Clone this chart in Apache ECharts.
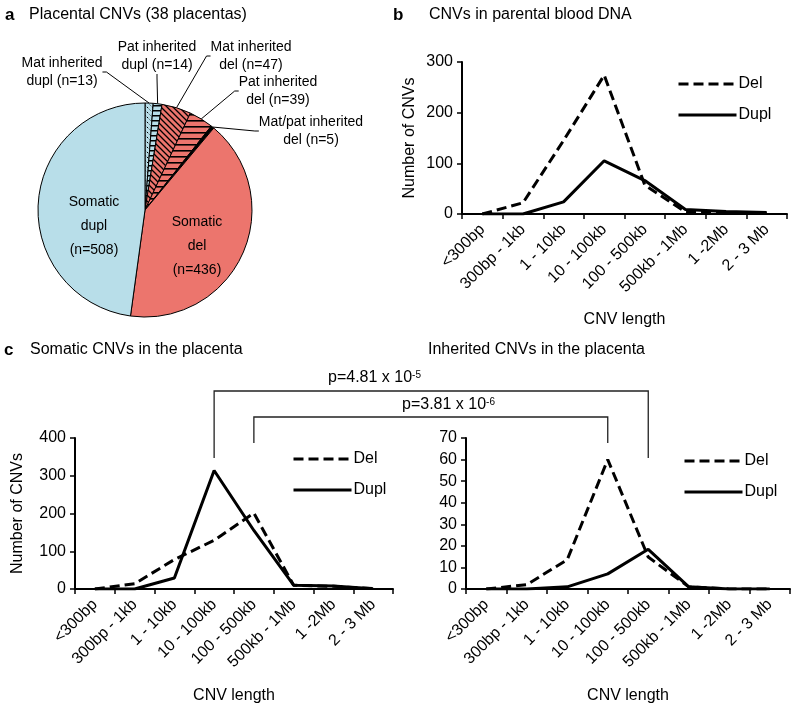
<!DOCTYPE html>
<html><head><meta charset="utf-8">
<script src="https://cdn.jsdelivr.net/npm/echarts@6/dist/echarts.min.js"></script>
<style>html,body{margin:0;padding:0;background:#fff}#c{width:797px;height:709px}</style>
</head><body><div id="c"></div>
<script>
// ---------- data ----------
const lengthCats = ['<300bp','300bp - 1kb','1 - 10kb','10 - 100kb','100 - 500kb','500kb - 1Mb','1 -2Mb','2 - 3 Mb'];
const pieNames = ['Mat inherited dupl','Pat inherited dupl','Mat inherited del','Pat inherited del','Mat/pat inherited del','Somatic del','Somatic dupl'];
const pieCounts = [13,14,47,39,5,436,508];
const parentalDel  = [0,22,145,274,57,4,2,1];
const parentalDupl = [0,0,24,105,66,9,5,3];
const somaticDel   = [0,14,78,129,201,10,7,1];
const somaticDupl  = [0,0,29,314,155,10,8,1];
const inheritedDel  = [0,2,13.6,60,14.8,1,0,0];
const inheritedDupl = [0,0,1,7,18.4,1,0,0];
const seriesNames = ['Del','Dupl'];
const pLabels = [['p=4.81 x 10','-5'],['p=3.81 x 10','-6']];

// ---------- styles ----------
const FONT = '"Liberation Sans", Arial, sans-serif';
const BLUE = '#b8dee9', SALMON = '#ec756d';
function pattern(bg, draw, w, h){
  const c = document.createElement('canvas'); c.width = w; c.height = h;
  const g = c.getContext('2d'); g.fillStyle = bg; g.fillRect(0,0,w,h);
  g.strokeStyle = '#000'; draw(g,w,h); return {image:c, repeat:'repeat'};
}
function diag(g,s){ g.beginPath(); g.moveTo(-1,-1); g.lineTo(s+1,s+1); g.moveTo(-1,s-1); g.lineTo(1,s+1); g.moveTo(s-1,-1); g.lineTo(s+1,1); g.stroke(); }
const pieFills = [
  pattern(BLUE,(g,w,h)=>{g.lineWidth=1; g.setLineDash([2,2]); diag(g,w);},5,5),
  pattern(BLUE,(g,w,h)=>{g.lineWidth=1.5; g.beginPath(); g.moveTo(0,0.75); g.lineTo(w,0.75); g.stroke();},6,5),
  pattern(SALMON,(g,w,h)=>{g.lineWidth=1.3; diag(g,w);},6,6),
  pattern(SALMON,(g,w,h)=>{g.lineWidth=1.6; g.beginPath(); g.moveTo(0,0.8); g.lineTo(w,0.8); g.stroke();},6,6.5),
  '#000', SALMON, BLUE
];
const outsideLabelPos = [[62,72],[157,56],[251,56],[278,91],[311,131],[197,246],[94,226]];

const grids = [
  {left:462, top:62, width:325, height:152},
  {left:75, top:438, width:318, height:151},
  {left:466, top:438, width:324, height:151}
];
const yCfg = [{max:300, interval:100, name:'Number of CNVs', gap:44},{max:400, interval:100, name:'Number of CNVs', gap:49},{max:70, interval:10, name:'', gap:0}];
const xGap = [98,99,99];
const lineData = [[parentalDel,parentalDupl],[somaticDel,somaticDupl],[inheritedDel,inheritedDupl]];
const legendPos = [[677,76],[292,451],[683,453]];

const axisLine = {show:true, onZero:false, lineStyle:{color:'#000', width:2}};
const option = {
  backgroundColor:'#fff',
  animation:false,
  textStyle:{fontFamily:FONT},
  grid: grids,
  xAxis: grids.map((g,i)=>({
    type:'category', gridIndex:i, data:lengthCats, boundaryGap:true,
    axisLine, axisTick:{show:true, length:5, inside:false, lineStyle:{color:'#000', width:1.5}},
    axisLabel:{rotate:45, interval:0, fontSize:16, color:'#000', margin:13, fontFamily:FONT},
    name:'CNV length', nameLocation:'middle', nameGap:xGap[i],
    nameTextStyle:{fontSize:16, color:'#000', fontFamily:FONT, verticalAlign:'top'}
  })),
  yAxis: grids.map((g,i)=>({
    type:'value', gridIndex:i, min:0, max:yCfg[i].max, interval:yCfg[i].interval,
    axisLine, axisTick:{show:true, length:5, lineStyle:{color:'#000', width:1.5}},
    splitLine:{show:false},
    axisLabel:{fontSize:16, color:'#000', margin:9, fontFamily:FONT},
    name:yCfg[i].name, nameLocation:'middle', nameGap:yCfg[i].gap,
    nameTextStyle:{fontSize:16, color:'#000', fontFamily:FONT}
  })),
  legend: legendPos.map(p=>({
    data:seriesNames, orient:'vertical', left:p[0], top:p[1], padding:0,
    itemWidth:58, itemHeight:14, itemGap:15,
    itemStyle:{opacity:0}, lineStyle:{width:3},
    textStyle:{fontSize:16, color:'#000', fontFamily:FONT, padding:[0,0,0,-3]}, selectedMode:false
  })),
  series: [],
  graphic: []
};
lineData.forEach((pair,i)=>{
  pair.forEach((d,k)=>{
    option.series.push({
      type:'line', name:seriesNames[k], xAxisIndex:i, yAxisIndex:i, data:d,
      symbol:'none', showSymbol:false,
      lineStyle:{color:'#000', width:3, type: k===0 ? [10,5] : 'solid'},
      itemStyle:{color:'#000'}
    });
  });
});
option.series.push({
  type:'pie', center:[145,210], radius:107, startAngle:90, clockwise:true, avoidLabelOverlap:false,
  itemStyle:{borderColor:'#000', borderWidth:1},
  label:{show:true, position:'outside', fontSize:14, color:'#000', lineHeight:18, fontFamily:FONT,
    formatter:(p)=>{
      if (p.dataIndex >= 5) return p.name.replace(' ','\n') + '\n(n=' + p.value + ')';
      const n = p.name; const idx = n.lastIndexOf(' ');
      return n.slice(0,idx) + '\n' + n.slice(idx+1) + ' (n=' + p.value + ')';
    }},
  labelLine:{show:true, length:6, length2:4, smooth:false, lineStyle:{color:'#000', width:1}},
  labelLayout:(params)=>{
    const p = outsideLabelPos[params.dataIndex];
    return {x:p[0], y:p[1], align:'center', verticalAlign:'middle'};
  },
  emphasis:{disabled:true},
  data: pieNames.map((n,i)=>({
    name:n, value:pieCounts[i], itemStyle:{color:pieFills[i]},
    label: i>=5 ? {position:'inside', lineHeight:24} : undefined,
    labelLine: i>=5 ? {show:false} : undefined
  }))
});
// title texts
const titles = [
  ['a',5,15,true],['Placental CNVs (38 placentas)',29,15,false],
  ['b',393,15,true],['CNVs in parental blood DNA',429,15,false],
  ['c',4,350,true],['Somatic CNVs in the placenta',30,350,false],
  ['Inherited CNVs in the placenta',428,350,false]
];
titles.forEach((t,i)=>option.graphic.push({type:'text', id:'t'+i, x:t[1], y:t[2],
  style:{text:t[0], fill:'#000', font:(t[3]?'bold 17px ':'16px ')+FONT, verticalAlign:'middle'}}));

const chart = echarts.init(document.getElementById('c'), null, {renderer:'canvas'});
chart.setOption(option);

// significance brackets between categories of the two placenta panels
const px = (gi, cat) => chart.convertToPixel({xAxisIndex:gi}, cat);
const brackets = [
  {from:[1,'10 - 100kb'], to:[2,'100 - 500kb'], yTop:391, yBot:458, label:pLabels[0], lx:328, ly:378},
  {from:[1,'100 - 500kb'], to:[2,'10 - 100kb'], yTop:417, yBot:443, label:pLabels[1], lx:402, ly:405}
];
const extra = [];
brackets.forEach((b,i)=>{
  const x1 = px(b.from[0], b.from[1]), x2 = px(b.to[0], b.to[1]);
  extra.push({type:'polyline', id:'br'+i, shape:{points:[[x1,b.yBot],[x1,b.yTop],[x2,b.yTop],[x2,b.yBot]]},
    style:{stroke:'#222', lineWidth:1.3, fill:null}});
  extra.push({type:'text', id:'pl'+i, x:b.lx, y:b.ly, style:{text:'{a|'+b.label[0]+'}{b|'+b.label[1]+'}',
    verticalAlign:'middle', rich:{a:{fontSize:16, fontFamily:FONT, fill:'#000'}, b:{fontSize:10, fontFamily:FONT, fill:'#000', verticalAlign:'top'}}}});
});
chart.setOption({graphic: extra});
</script></body></html>
